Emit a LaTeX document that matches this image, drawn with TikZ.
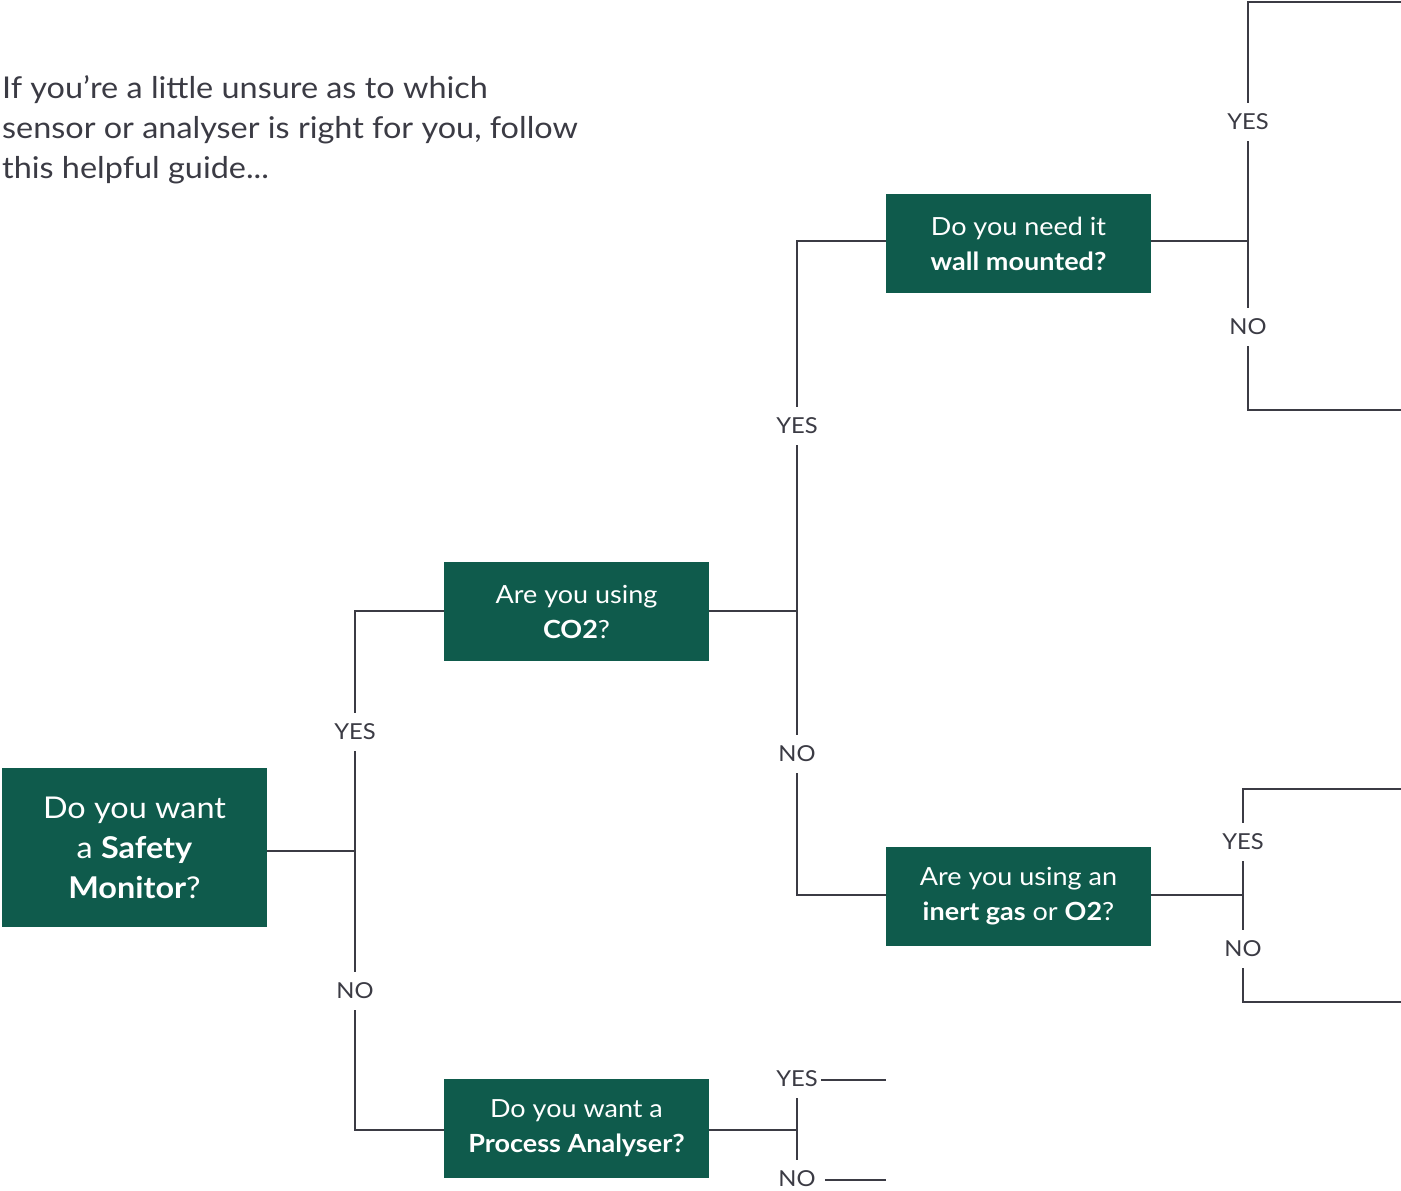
\documentclass[tikz,border=0pt]{standalone}
\usepackage{fontspec}
\setmainfont{Lato}[FakeStretch=1.08]
\definecolor{boxgreen}{HTML}{0F5B4C}
\definecolor{linegray}{HTML}{3B3B44}
\begin{document}
\begin{tikzpicture}[x=1pt,y=-1pt,
  qbox/.style={fill=boxgreen,text=white,minimum width=265pt,minimum height=99pt,inner sep=0pt,align=center,font=\fontsize{25}{35}\selectfont},
  conn/.style={draw=linegray,line width=2.6pt,line join=miter},
  lbl/.style={fill=white,text=linegray,font=\fontsize{22}{24}\selectfont,inner xsep=3pt,inner ysep=11pt}]
\useasboundingbox (0,0) rectangle (1401,1191);

% intro
\node[anchor=north west,align=left,inner sep=0pt,text=linegray,font=\fontsize{30}{40}\selectfont] (intro) at (2,75)
  {If you’re a little unsure as to which\\ sensor or analyser is right for you, follow\\ this helpful guide...};

% boxes
\node[qbox,minimum height=159pt,font=\fontsize{30}{40}\selectfont] (safety) at (134.5,847.5)
  {Do you want\\ a \textbf{Safety}\\ \textbf{Monitor}?};
\node[qbox] (co2) at (576.5,611.5) {Are you using\\ \textbf{CO2}?};
\node[qbox] (proc) at (576.5,1128.5) {Do you want a\\ \textbf{Process Analyser?}};
\node[qbox] (wall) at (1018.5,243.5) {Do you need it\\ \textbf{wall mounted?}};
\node[qbox] (inert) at (1018.5,896.5) {Are you using an\\ \textbf{inert gas} or \textbf{O2}?};

% junctions and free ends
\coordinate (j1) at (355,851);
\coordinate (j2) at (797,611);
\coordinate (j3) at (1248,241);
\coordinate (j4) at (1243,895);
\coordinate (j5) at (797,1130);
\coordinate (w1) at (1401,2);
\coordinate (w2) at (1401,410);
\coordinate (i1) at (1401,789);
\coordinate (i2) at (1401,1002);
\coordinate (p1) at (886,1080);
\coordinate (p2) at (886,1180);

% connectors
\draw[conn] (safety.east |- j1) -- (j1);
\draw[conn] (co2.west |- j2) -| (j1) |- (proc.west |- j5);
\draw[conn] (co2.east |- j2) -- (j2);
\draw[conn] (wall.west |- j3) -| (j2) |- (inert.west |- j4);
\draw[conn] (wall.east |- j3) -- (j3);
\draw[conn] (w1) -| (j3) |- (w2);
\draw[conn] (inert.east |- j4) -- (j4);
\draw[conn] (i1) -| (j4) |- (i2);
\draw[conn] (proc.east |- j5) -- (j5);

% labels
\node[lbl] (y1) at (355,732) {YES};
\node[lbl] (n1) at (355,991) {NO};
\node[lbl] (y2) at (797,426) {YES};
\node[lbl] (n2) at (797,754) {NO};
\node[lbl] (y3) at (1248,122) {YES};
\node[lbl] (n3) at (1248,327) {NO};
\node[lbl] (y4) at (1243,842) {YES};
\node[lbl] (n4) at (1243,949) {NO};
\node[lbl] (y5) at (797,1079) {YES};
\node[lbl] (n5) at (797,1179) {NO};

\draw[conn] (y5.south) -- (n5.north);
\draw[conn] (y5.east |- p1) -- (p1);
\draw[conn] (n5.east |- p2) ++(6,0) -- (p2);
\end{tikzpicture}
\end{document}
